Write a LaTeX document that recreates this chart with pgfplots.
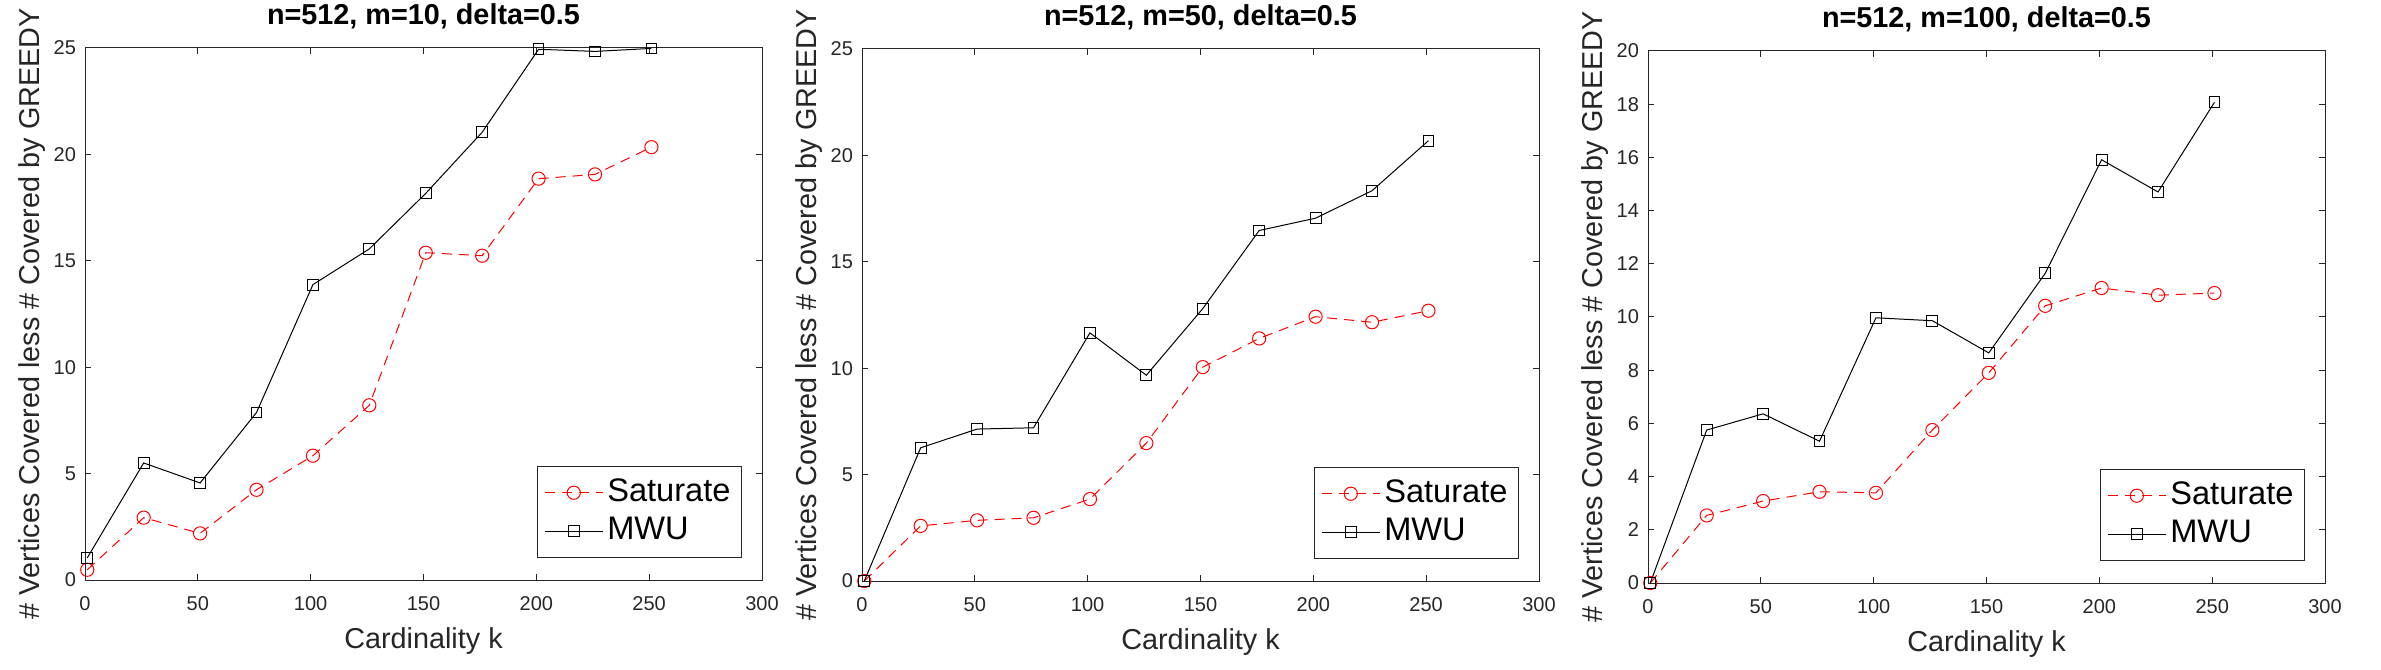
\documentclass[border=0pt]{standalone}
\usepackage{fontspec}
\setmainfont{Liberation Sans}
\usepackage{pgfplots}
\usepackage{pgfplotstable}
\pgfplotsset{compat=1.18}
\definecolor{axgray}{HTML}{262626}

\pgfplotstableread{
k sat mwu
1   0.48  1.04
26  2.93  5.50
51  2.19  4.56
76  4.24  7.87
101 5.84  13.88
126 8.21  15.56
151 15.38 18.17
176 15.24 21.04
201 18.86 24.94
226 19.06 24.84
251 20.34 24.98
}\dataA
\pgfplotstableread{
k sat mwu
1   0.00  0.00
26  2.59  6.26
51  2.85  7.14
76  2.97  7.20
101 3.85  11.66
126 6.48  9.67
151 10.05 12.80
176 11.40 16.47
201 12.42 17.05
226 12.16 18.34
251 12.70 20.69
}\dataB
\pgfplotstableread{
k sat mwu
1   0.00  0.00
26  2.54  5.75
51  3.08  6.36
76  3.43  5.33
101 3.39  9.97
126 5.75  9.86
151 7.90  8.65
176 10.42 11.64
201 11.09 15.91
226 10.82 14.70
251 10.90 18.07
}\dataC

\pgfplotsset{
  legend image code/.code={\draw[mark repeat=2,mark phase=2,#1] plot coordinates {(0pt,0pt) (14.5pt,0pt) (29pt,0pt)};},
  matlab/.style={
    scale only axis, width=338.5pt, height=266pt,
    xmin=0, xmax=300, xtick={0,50,...,300},
    ymin=0,
    clip=false,
    tick align=inside, xtick pos=both, ytick pos=both,
    major tick length=3pt,
    axis line style={axgray, line width=0.5pt},
    every tick/.style={axgray, line width=0.5pt},
    tick label style={font=\fontsize{10}{12}\selectfont, text=axgray},
    /pgf/number format/assume math mode=true,
    xticklabel style={yshift=-4.5pt},
    yticklabel style={xshift=-1pt},
    label style={font=\fontsize{14.4}{17}\selectfont, text=axgray},
    xlabel={Cardinality k},
    ylabel={\# Vertices Covered less \# Covered by GREEDY},
    xlabel style={at={(axis description cs:0.5,0)}, anchor=base, yshift=-34pt},
    ylabel style={at={(axis description cs:-0.0679,0.5)}, anchor=base},
    title style={font=\bfseries\fontsize{14.4}{17}\selectfont, text=black, at={(axis description cs:0.5,1)}, anchor=base, yshift=5.5pt},
    legend style={at={(axis description cs:0.9705,0.0414)}, anchor=south east,
      draw=axgray, line width=0.5pt, font=\fontsize{16.3}{19}\selectfont,
      inner sep=3.5pt, row sep=0pt,
      nodes={inner sep=2pt, text height=12pt, text depth=3.25pt}},
    legend cell align=left,
  },
  satstyle/.style={red, line width=0.5pt, dash pattern=on 5pt off 3.5pt, mark=o, mark size=3.3pt, mark options={solid}},
  mwustyle/.style={black, line width=0.5pt, mark=square, mark size=2.7pt, mark options={solid}},
}

\begin{document}
\begin{tikzpicture}
\useasboundingbox (0,0) rectangle (1190.5pt,334.5pt);

\begin{axis}[matlab, at={(42.5pt,44.5pt)}, anchor=south west,
  ymax=25, ytick={0,5,...,25}, title={n=512, m=10, delta=0.5}]
\addplot[satstyle] table[x=k,y=sat] {\dataA};
\addplot[mwustyle] table[x=k,y=mwu] {\dataA};
\legend{Saturate,MWU}
\end{axis}

\begin{axis}[matlab, at={(431pt,44pt)}, anchor=south west,
  ymax=25, ytick={0,5,...,25}, title={n=512, m=50, delta=0.5}]
\addplot[satstyle] table[x=k,y=sat] {\dataB};
\addplot[mwustyle] table[x=k,y=mwu] {\dataB};
\legend{Saturate,MWU}
\end{axis}

\begin{axis}[matlab, at={(824pt,43pt)}, anchor=south west,
  ymax=20, ytick={0,2,...,20}, title={n=512, m=100, delta=0.5}]
\addplot[satstyle] table[x=k,y=sat] {\dataC};
\addplot[mwustyle] table[x=k,y=mwu] {\dataC};
\legend{Saturate,MWU}
\end{axis}
\end{tikzpicture}
\end{document}
